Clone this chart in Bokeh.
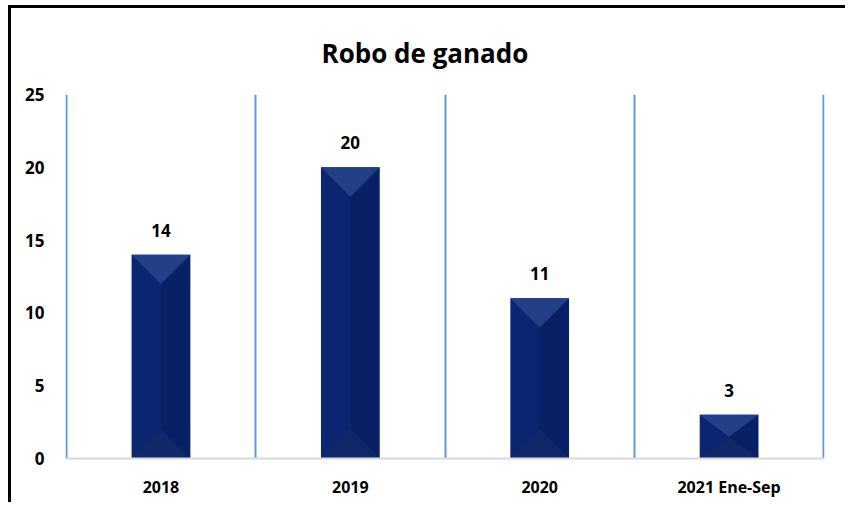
from bokeh.plotting import figure
from bokeh.models import FixedTicker, Range1d, ColumnDataSource
from bokeh.core.properties import value
from bokeh.embed import file_html
from bokeh.resources import INLINE

# ---- data ----
categories = ["2018", "2019", "2020", "2021 Ene-Sep"]
values = [14, 20, 11, 3]
y_ticks = [0, 5, 10, 15, 20, 25]
title_text = "Robo de ganado"

FONT = "Open Sans"
n = len(categories)
xpos = [i + 0.5 for i in range(n)]
bar_w = 0.31
pad = 0.004

p = figure(width=837, height=497, output_backend="svg", toolbar_location=None,
           x_range=Range1d(-pad, n + pad), y_range=Range1d(0, 25),
           min_border_left=54, min_border_right=24, min_border_top=86, min_border_bottom=47)
p.styles = {"border-top": "3px solid #000000", "border-left": "3px solid #000000",
            "margin-left": "8px", "margin-top": "5px"}
p.outline_line_color = None
p.background_fill_color = "white"
p.border_fill_color = "white"

# title
p.title.text = title_text
p.title.text_font = FONT
p.title.text_font_style = "bold"
p.title.text_font_size = "26px"
p.title.text_color = "#000000"
p.title.align = "left"
p.title.offset = 256
p.title.standoff = 48

# grids
p.ygrid.grid_line_color = None
p.xgrid.ticker = FixedTicker(ticks=list(range(n + 1)))
p.xgrid.grid_line_color = "#5b9bd5"
p.xgrid.grid_line_width = 2

# axes
p.xaxis.ticker = FixedTicker(ticks=xpos)
p.xaxis.major_label_overrides = {x: c for x, c in zip(xpos, categories)}
p.xaxis.axis_line_color = "#d9d9d9"
p.xaxis.axis_line_width = 2
p.xaxis.major_tick_line_color = None
p.xaxis.minor_tick_line_color = None
p.xaxis.major_label_standoff = 11
p.xaxis.major_label_text_font = FONT
p.xaxis.major_label_text_font_style = "bold"
p.xaxis.major_label_text_font_size = "16px"
p.xaxis.major_label_text_color = "#000000"

p.yaxis.ticker = FixedTicker(ticks=y_ticks)
p.yaxis.axis_line_color = None
p.yaxis.major_tick_line_color = None
p.yaxis.minor_tick_line_color = None
p.yaxis.major_label_standoff = 15
p.yaxis.major_label_text_font = FONT
p.yaxis.major_label_text_font_style = "bold"
p.yaxis.major_label_text_font_size = "17px"
p.yaxis.major_label_text_color = "#000000"

# bars
src = ColumnDataSource(dict(x=xpos, top=values, label=[str(v) for v in values]))
p.vbar(x="x", top="top", width=bar_w, bottom=0, source=src,
       fill_color="#0b2570", line_color=None)

# bevel facets (derived from data)
px_per_x = 759 / n
px_per_y = 364 / 25
half_w_px = bar_w * px_per_x / 2
top_xs, top_ys, bot_xs, bot_ys, side_xs, side_ys = [], [], [], [], [], []
for x, v in zip(xpos, values):
    l, r = x - bar_w / 2, x + bar_w / 2
    d = min(half_w_px / px_per_y, v / 2.0)
    top_xs.append([l, r, x]); top_ys.append([v, v, v - d])
    bot_xs.append([l, r, x]); bot_ys.append([0, 0, d])
    side_xs.append([x, r, r, x]); side_ys.append([v - d, v, 0, d])
p.patches(side_xs, side_ys, fill_color="#041650", fill_alpha=0.35, line_color=None)
p.patches(top_xs, top_ys, fill_color="#223f88", line_color=None)
p.patches(bot_xs, bot_ys, fill_color="#0e2869", line_color=None)

# value labels
p.text(x="x", y="top", text="label", source=src, text_align="center",
       text_baseline="bottom", y_offset=-18, text_font=value(FONT),
       text_font_style="bold", text_font_size="17px", text_color="#000000")

open("out.html", "w").write(file_html(p, INLINE))
